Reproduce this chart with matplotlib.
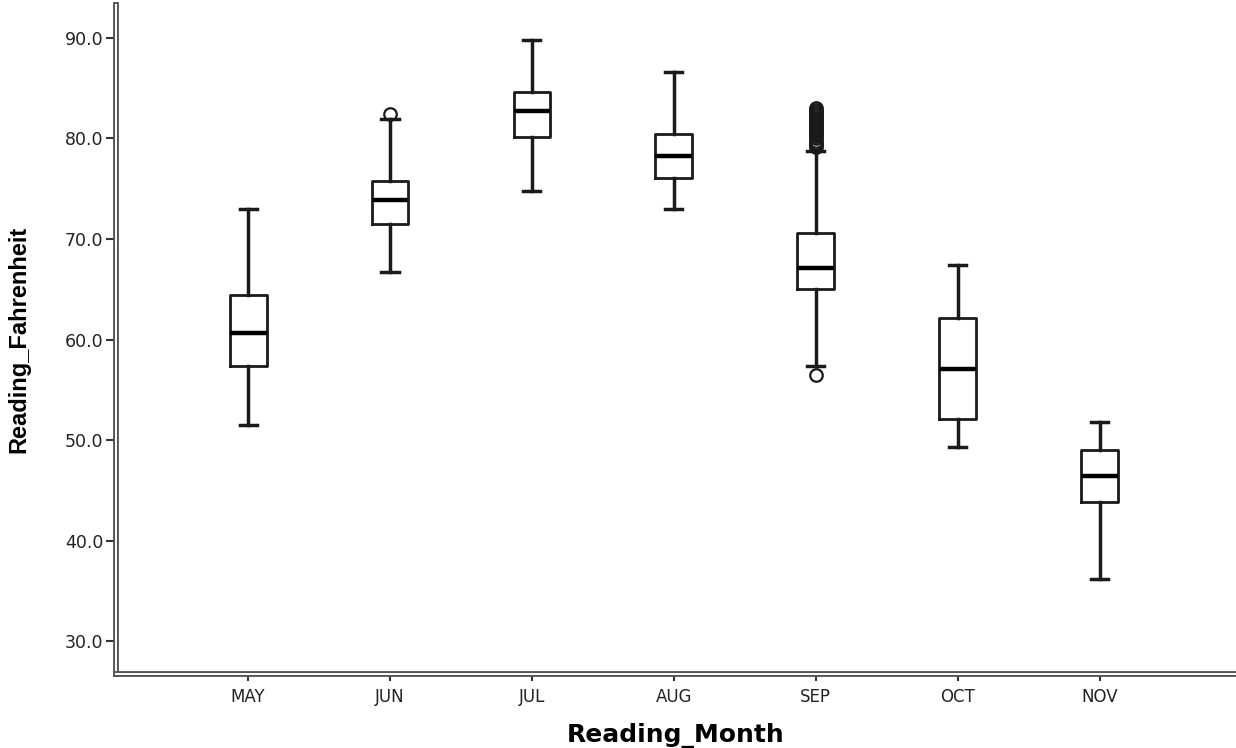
import matplotlib
matplotlib.use('Agg')
import matplotlib.pyplot as plt
from matplotlib import patheffects as pe

# Box summary values (deg F)
months = ['MAY', 'JUN', 'JUL', 'AUG', 'SEP', 'OCT', 'NOV']
whis_lo = [51.5, 66.7, 74.8, 73.0, 57.4, 49.3, 36.2]
q1 = [57.4, 71.5, 80.1, 76.1, 65.0, 52.1, 43.8]
med = [60.6, 73.9, 82.7, 78.3, 67.1, 57.1, 46.4]
q3 = [64.4, 75.8, 84.6, 80.4, 70.6, 62.1, 49.0]
whis_hi = [73.0, 81.9, 89.8, 86.6, 78.8, 67.4, 51.8]

# Outliers per month
jun_out = [82.4]
sep_out = [56.5, 79.2, 79.4, 79.6, 79.8, 80.0, 80.2, 80.4, 80.6, 80.8, 81.0,
           81.2, 81.4, 81.6, 81.8, 82.0, 82.2, 82.4, 82.6, 82.8, 83.0]
fliers = [[], jun_out, [], [], sep_out, [], []]

stats = []
for i, m in enumerate(months):
    stats.append({'label': m, 'whislo': whis_lo[i], 'q1': q1[i], 'med': med[i],
                  'q3': q3[i], 'whishi': whis_hi[i], 'fliers': fliers[i]})

fig = plt.figure(figsize=(12.36, 7.48), dpi=100)
ax = fig.add_axes([0.0939, 0.0989, 0.9061, 0.8944])

line_col = '#1a1a1a'
ax.bxp(stats, positions=range(len(months)), widths=0.26, capwidths=0.12,
       patch_artist=False,
       boxprops=dict(color=line_col, linewidth=2.0),
       whiskerprops=dict(color=line_col, linewidth=2.5),
       capprops=dict(color=line_col, linewidth=2.5),
       medianprops=dict(color='black', linewidth=3.2),
       flierprops=dict(marker='o', markerfacecolor='none', markeredgecolor=line_col,
                       markersize=9, markeredgewidth=1.6))

ax.set_xlim(-0.93, 6.96)
ax.set_ylim(26.72, 93.28)
ax.set_yticks([30, 40, 50, 60, 70, 80, 90])
ax.set_yticklabels(['30.0', '40.0', '50.0', '60.0', '70.0', '80.0', '90.0'])
ax.set_xticks(range(len(months)))
ax.set_xticklabels(months)

ax.tick_params(axis='y', length=7, width=1.5, color='#333333', pad=2,
               labelsize=12.5, labelcolor='#222222')
ax.tick_params(axis='x', length=5, width=1.5, color='#333333', pad=5,
               labelsize=12, labelcolor='#222222')

ax.spines['top'].set_visible(False)
ax.spines['right'].set_visible(False)
for side in ['left', 'bottom']:
    sp = ax.spines[side]
    sp.set_linewidth(1)
    sp.set_path_effects([pe.Stroke(linewidth=4.2, foreground='#555555'),
                         pe.Stroke(linewidth=1.4, foreground='white')])

ax.set_xlabel('Reading_Month', fontsize=18, fontweight='bold',
              family='DejaVu Sans', labelpad=12)
ax.set_ylabel('Reading_Fahrenheit', fontsize=17, fontweight='bold',
              family='Liberation Sans', labelpad=25)

fig.savefig('out.png', dpi=100)
